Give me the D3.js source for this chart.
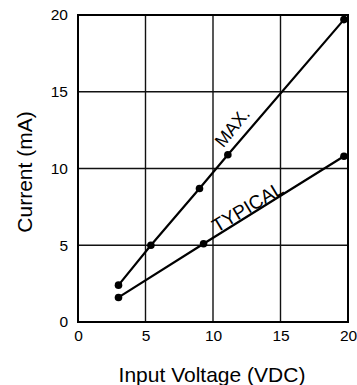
<!DOCTYPE html>
<html><head><meta charset="utf-8">
<script src="https://cdn.jsdelivr.net/npm/d3@7"></script>
<style>body{margin:0;background:#fff}svg{display:block}text{font-family:"Liberation Sans",Arial,sans-serif;fill:#000}</style>
</head><body>
<svg id="c" width="357" height="385"></svg>
<script>
const xTicks = [0, 5, 10, 15, 20];
const yTicks = [0, 5, 10, 15, 20];
const maxV = [3.0, 5.4, 9.0, 11.1, 19.7];
const maxI = [2.4, 5.0, 8.7, 10.9, 19.7];
const typV = [3.0, 9.3, 19.7];
const typI = [1.6, 5.1, 10.8];
const seriesLabels = ["MAX.", "TYPICAL"];
const xTitle = "Input Voltage (VDC)";
const yTitle = "Current (mA)";

const svg = d3.select("#c");
const m = {l: 78, r: 348, t: 15, b: 322};
const x = d3.scaleLinear().domain([0, 20]).range([m.l, m.r]);
const y = d3.scaleLinear().domain([0, 20]).range([m.b, m.t]);

// grid
svg.append("g").selectAll("line").data(xTicks.slice(1, -1)).join("line")
  .attr("x1", d => x(d)).attr("x2", d => x(d)).attr("y1", m.t).attr("y2", m.b)
  .attr("stroke", "#111").attr("stroke-width", 1.4);
svg.append("g").selectAll("line").data(yTicks.slice(1, -1)).join("line")
  .attr("y1", d => y(d)).attr("y2", d => y(d)).attr("x1", m.l).attr("x2", m.r)
  .attr("stroke", "#111").attr("stroke-width", 1.4);
svg.append("rect").attr("x", m.l).attr("y", m.t).attr("width", m.r - m.l).attr("height", m.b - m.t)
  .attr("fill", "none").attr("stroke", "#000").attr("stroke-width", 2);

// axes (labels only)
const xa = svg.append("g").attr("transform", `translate(0,${m.b})`)
  .call(d3.axisBottom(x).tickValues(xTicks).tickSize(0).tickPadding(8));
const ya = svg.append("g").attr("transform", `translate(${m.l},0)`)
  .call(d3.axisLeft(y).tickValues(yTicks).tickSize(0).tickPadding(10));
[xa, ya].forEach(a => { a.select(".domain").remove(); a.selectAll("text").style("font-size", "15.5px").attr("fill", "#000").style("font-family", '"Liberation Sans",Arial,sans-serif'); });

// series
const line = d3.line().x(d => x(d[0])).y(d => y(d[1]));
const series = [d3.zip(maxV, maxI), d3.zip(typV, typI)];
series.forEach(s => {
  svg.append("path").datum(s).attr("d", line).attr("fill", "none").attr("stroke", "#000").attr("stroke-width", 2.2);
  svg.append("g").selectAll("circle").data(s).join("circle")
    .attr("cx", d => x(d[0])).attr("cy", d => y(d[1])).attr("r", 3.8).attr("fill", "#000");
});

// series labels
const labelPos = [[10.75, 11.3, -51, 18], [10.3, 5.8, -31, 19]];
seriesLabels.forEach((t, i) => {
  const [lx, ly, a, fs] = labelPos[i];
  svg.append("text").attr("transform", `translate(${x(lx)},${y(ly)}) rotate(${a})`)
    .style("font-size", fs + "px").text(t);
});

// titles
svg.append("text").attr("x", (m.l + m.r) / 2 - 1).attr("y", 382).attr("text-anchor", "middle")
  .style("font-size", "21px").text(xTitle);
svg.append("text").attr("transform", `translate(32,172) rotate(-90)`).attr("text-anchor", "middle")
  .style("font-size", "21px").text(yTitle);
</script>
</body></html>
